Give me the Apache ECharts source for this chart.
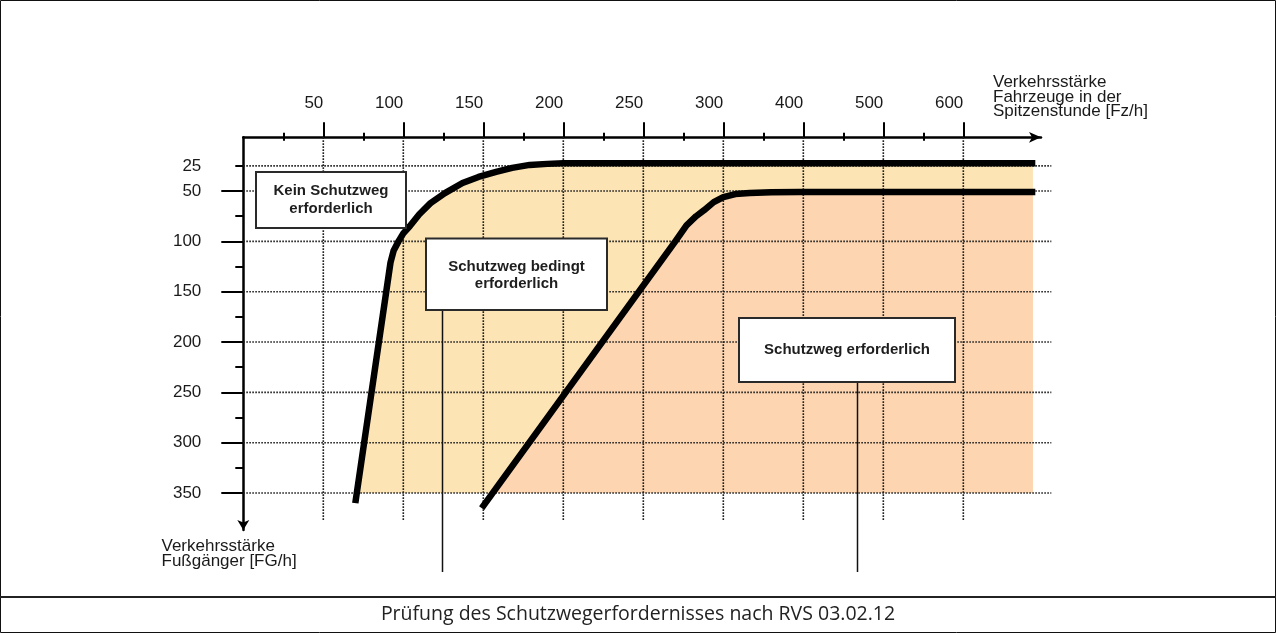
<!DOCTYPE html>
<html><head><meta charset="utf-8">
<script src="https://cdn.jsdelivr.net/npm/echarts@6/dist/echarts.min.js"></script>
<style>html,body{margin:0;padding:0;background:#fff}#c{width:1276px;height:633px}</style>
</head><body><div id="c"></div>
<script>
// ---- data (vehicles Fz/h, pedestrians FG/h) ----
const xTickValues = [50, 100, 150, 200, 250, 300, 400, 500, 600];
const xMinorTickValues = [25, 75, 125, 175, 225, 275, 350, 450, 550];
const yTickValues = [25, 50, 100, 150, 200, 250, 300, 350];
const yMajorTickValues = [50, 100, 150, 200, 250, 300, 350];
const yMinorTickValues = [25, 75, 125, 175, 225, 275, 325];
// boundary "Kein Schutzweg" / "Schutzweg bedingt"
const upperCurve = [[70,360],[92,121],[94,109],[97,100],[100,92],[104,85],[110,73],[117,62],[126,52],[137,42],[147,36],[158,31],[168,27],[179,24],[190,23],[200,22.5],[690,22.5]];
// boundary "Schutzweg bedingt" / "Schutzweg erforderlich"
const lowerCurve = [[149,365],[270,100],[277,84],[283,75],[288,69],[294,61],[300,56],[315,53],[333,52],[360,51.3],[396,51],[690,51]];
const fillBottom = 350;
const fillRight = 687;
const gridLineYEnd = 377;
const gridLineXEnd = 710;

// piecewise axis: each labelled tick occupies one equal slot
function toSlot(v) {
  const anchors = [0].concat(xTickValues);
  for (let i = 1; i < anchors.length; i++) {
    if (v <= anchors[i]) return (i - 1) + (v - anchors[i - 1]) / (anchors[i] - anchors[i - 1]);
  }
  const n = anchors.length - 1;
  return n + (v - anchors[n]) / (anchors[n] - anchors[n - 1]);
}

const X_MAX = 9.971, Y_MIN = -3.4, Y_MAX = 386.7;
const FONT = '"Liberation Sans", Arial, sans-serif';

function regionPolygon(curve) {
  const pts = curve.map(p => [toSlot(p[0]), p[1]]);
  const out = [];
  for (let i = 0; i < pts.length - 1; i++) {
    const a = pts[i], b = pts[i + 1];
    if (a[1] >= fillBottom && b[1] < fillBottom) {
      const t = (a[1] - fillBottom) / (a[1] - b[1]);
      out.push([a[0] + t * (b[0] - a[0]), fillBottom]);
    }
    if (b[1] < fillBottom && b[0] < toSlot(fillRight)) out.push(b);
  }
  const last = pts[pts.length - 1];
  out.push([toSlot(fillRight), last[1]]);
  out.push([toSlot(fillRight), fillBottom]);
  return out;
}

const gridLines = [];
xTickValues.forEach(v => gridLines.push([toSlot(v), Y_MIN, toSlot(v), gridLineYEnd]));
yTickValues.forEach(v => gridLines.push([0, v, toSlot(gridLineXEnd), v]));

function polySeries(curve, color, z) {
  const poly = regionPolygon(curve);
  return {
    type: 'custom', coordinateSystem: 'cartesian2d', z: z, silent: true,
    data: [[0, 0]],
    renderItem: (params, api) => ({
      type: 'polygon',
      shape: { points: poly.map(p => api.coord(p)) },
      style: { fill: color }
    })
  };
}

const chart = echarts.init(document.getElementById('c'));
const baseX = { type: 'value', position: 'top', min: 0, max: X_MAX, splitLine: { show: false } };
const baseY = { type: 'value', position: 'left', inverse: true, min: Y_MIN, max: Y_MAX, splitLine: { show: false } };
chart.setOption({
  animation: false,
  grid: { left: 243.3, top: 137.3, width: 797.7, height: 392.7, containLabel: false, outerBoundsMode: 'none' },
  xAxis: [
    Object.assign({}, baseX, {
      axisLine: { show: true, onZero: false, symbol: ['none', 'arrow'], symbolSize: [8, 12], lineStyle: { color: '#000', width: 2.5 } },
      axisTick: { show: true, customValues: xTickValues.map(toSlot), length: 15, lineStyle: { color: '#000', width: 2 } },
      axisLabel: {
        show: true, customValues: xTickValues.map(toSlot),
        formatter: v => String(xTickValues[Math.round(v) - 1]),
        align: 'right', verticalAlign: 'middle', margin: 34,
        color: '#1a1a1a', fontSize: 17, fontFamily: FONT
      }
    }),
    Object.assign({}, baseX, {
      axisLine: { show: false },
      axisTick: { show: true, customValues: xMinorTickValues.map(toSlot), length: 8, lineStyle: { color: '#000', width: 2 } },
      axisLabel: { show: false }
    })
  ],
  yAxis: [
    Object.assign({}, baseY, {
      axisLine: { show: true, onZero: false, symbol: ['arrow', 'none'], symbolSize: [9, 10], lineStyle: { color: '#000', width: 2.5 } },
      axisTick: { show: true, customValues: yMajorTickValues, length: 22, lineStyle: { color: '#000', width: 2 } },
      axisLabel: {
        show: true, customValues: yTickValues,
        align: 'right', verticalAlign: 'middle', margin: 42, padding: [0, 0, 8, 0],
        color: '#1a1a1a', fontSize: 17, fontFamily: FONT
      }
    }),
    Object.assign({}, baseY, {
      axisLine: { show: false },
      axisTick: { show: true, customValues: yMinorTickValues, length: 8, lineStyle: { color: '#000', width: 2 } },
      axisLabel: { show: false }
    })
  ],
  series: [
    polySeries(upperCurve, '#fce4b4', 1),
    polySeries(lowerCurve, '#fdd6b1', 2),
    {
      type: 'custom', coordinateSystem: 'cartesian2d', z: 3, silent: true,
      encode: { x: [0, 2], y: [1, 3] },
      data: gridLines,
      renderItem: (params, api) => {
        const p1 = api.coord([api.value(0), api.value(1)]);
        const p2 = api.coord([api.value(2), api.value(3)]);
        return { type: 'line', shape: { x1: p1[0], y1: p1[1], x2: p2[0], y2: p2[1] },
          style: { stroke: '#222', lineWidth: 1.6, lineDash: [1.6, 1.4] } };
      }
    },
    {
      type: 'line', z: 4, silent: true, symbol: 'none', smooth: false,
      data: upperCurve.map(p => [toSlot(p[0]), p[1]]),
      lineStyle: { color: '#000', width: 6.5, cap: 'butt', join: 'round' }
    },
    {
      type: 'line', z: 4, silent: true, symbol: 'none', smooth: false,
      data: lowerCurve.map(p => [toSlot(p[0]), p[1]]),
      lineStyle: { color: '#000', width: 6.5, cap: 'butt', join: 'round' }
    }
  ],
  graphic: [
    { type: 'rect', z: 100, silent: true, shape: { x: 0.5, y: 0.5, width: 1275, height: 632 }, style: { fill: 'none', stroke: '#111', lineWidth: 1 } },
    { type: 'line', z: 100, silent: true, shape: { x1: 0, y1: 597, x2: 1276, y2: 597 }, style: { stroke: '#222', lineWidth: 2 } },
    { type: 'text', z: 100, silent: true, x: 638, y: 614, style: { text: 'Prüfung des Schutzwegerfordernisses nach RVS 03.02.12', font: '19.5px "Open Sans", sans-serif', fill: '#222', align: 'center', verticalAlign: 'middle', textAlign: 'center', textVerticalAlign: 'middle' } },
    { type: 'text', z: 100, silent: true, x: 993, y: 75.25, style: { text: 'Verkehrsstärke\nFahrzeuge in der\nSpitzenstunde [Fz/h]', font: '17px ' + FONT, lineHeight: 14.5, fill: '#1a1a1a', align: 'left', verticalAlign: 'top', textAlign: 'left', textVerticalAlign: 'top' } },
    { type: 'text', z: 100, silent: true, x: 161.5, y: 538.5, style: { text: 'Verkehrsstärke\nFußgänger [FG/h]', font: '17px ' + FONT, lineHeight: 15, fill: '#1a1a1a', align: 'left', verticalAlign: 'top', textAlign: 'left', textVerticalAlign: 'top' } },
    { type: 'line', z: 100, silent: true, shape: { x1: 442.5, y1: 310, x2: 442.5, y2: 572 }, style: { stroke: '#111', lineWidth: 1.5 } },
    { type: 'line', z: 100, silent: true, shape: { x1: 857.5, y1: 382, x2: 857.5, y2: 572 }, style: { stroke: '#111', lineWidth: 1.5 } },
    { type: 'rect', z: 101, silent: true, shape: { x: 256, y: 172, width: 150, height: 56 }, style: { fill: '#fff', stroke: '#2a2a2a', lineWidth: 2 } },
    { type: 'text', z: 102, silent: true, x: 331, y: 200, style: { text: 'Kein Schutzweg\nerforderlich', font: 'bold 15px ' + FONT, lineHeight: 17.3, fill: '#1e1e1e', align: 'center', verticalAlign: 'middle', textAlign: 'center', textVerticalAlign: 'middle' } },
    { type: 'rect', z: 101, silent: true, shape: { x: 426, y: 238.5, width: 181, height: 71.5 }, style: { fill: '#fff', stroke: '#2a2a2a', lineWidth: 2 } },
    { type: 'text', z: 102, silent: true, x: 516.5, y: 275.2, style: { text: 'Schutzweg bedingt\nerforderlich', font: 'bold 15px ' + FONT, lineHeight: 17.3, fill: '#1e1e1e', align: 'center', verticalAlign: 'middle', textAlign: 'center', textVerticalAlign: 'middle' } },
    { type: 'rect', z: 101, silent: true, shape: { x: 739, y: 318, width: 216, height: 64 }, style: { fill: '#fff', stroke: '#2a2a2a', lineWidth: 2 } },
    { type: 'text', z: 102, silent: true, x: 847, y: 350, style: { text: 'Schutzweg erforderlich', font: 'bold 15px ' + FONT, fill: '#1e1e1e', align: 'center', verticalAlign: 'middle', textAlign: 'center', textVerticalAlign: 'middle' } }
  ]
});
</script>
</body></html>
